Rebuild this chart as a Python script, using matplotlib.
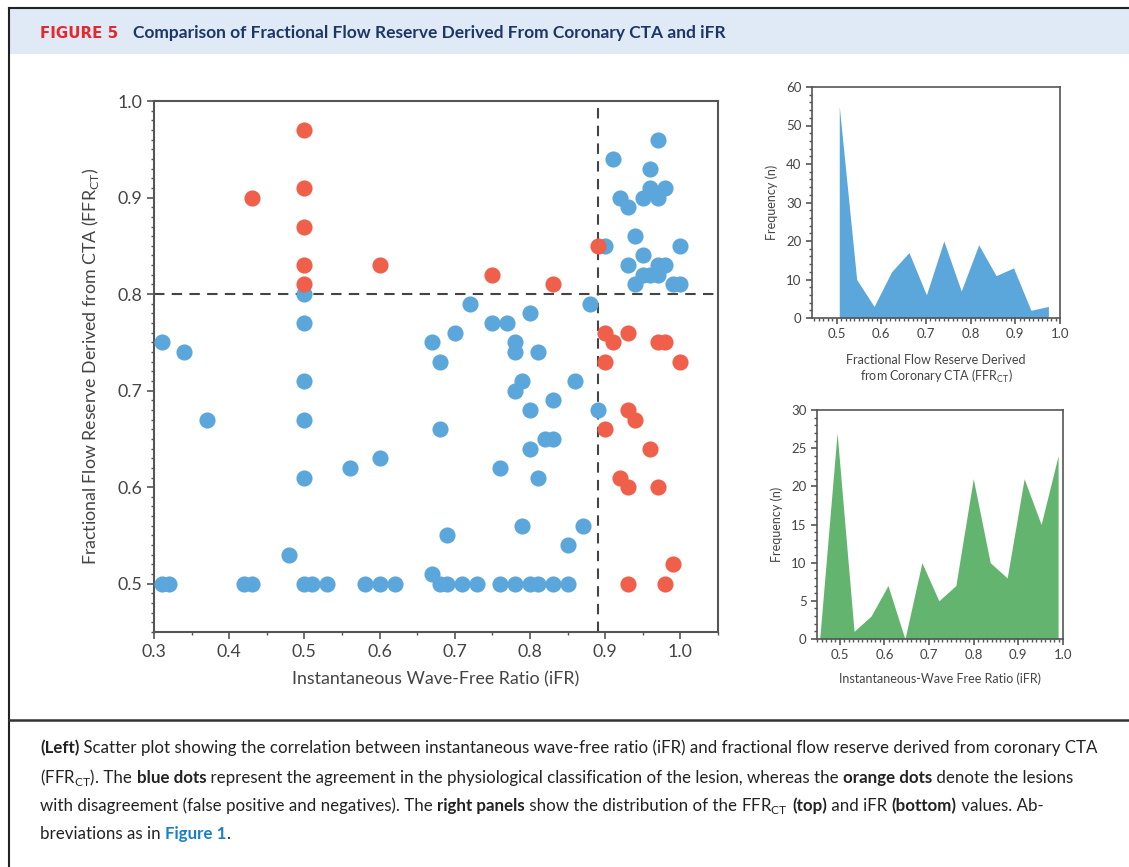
import matplotlib
matplotlib.use("Agg")
import matplotlib.pyplot as plt
from matplotlib.ticker import MultipleLocator, FormatStrFormatter
from matplotlib.patches import Rectangle
from matplotlib.lines import Line2D

# iFR / FFR-CT pairs where the two methods agree on the lesion
agree_ifr = [0.31, 0.34, 0.37, 0.31, 0.32, 0.42, 0.43, 0.48,
             0.50, 0.50, 0.50, 0.50, 0.50, 0.50, 0.51, 0.53,
             0.56, 0.60, 0.58, 0.60, 0.62,
             0.67, 0.68, 0.70, 0.72, 0.68, 0.69, 0.67,
             0.68, 0.69, 0.71, 0.73,
             0.75, 0.77, 0.78, 0.78, 0.80, 0.81, 0.79, 0.78, 0.80, 0.83,
             0.82, 0.83, 0.80, 0.76, 0.81, 0.79, 0.86, 0.85, 0.87,
             0.76, 0.78, 0.80, 0.81, 0.83, 0.85, 0.88, 0.89,
             0.97, 0.91, 0.96, 0.96, 0.98, 0.92, 0.93, 0.95, 0.97,
             0.94, 0.90, 1.00, 0.95, 0.93, 0.95, 0.96, 0.97, 0.97, 0.98,
             0.94, 0.99, 1.00]
agree_ffrct = [0.75, 0.74, 0.67, 0.50, 0.50, 0.50, 0.50, 0.53,
               0.80, 0.77, 0.71, 0.67, 0.61, 0.50, 0.50, 0.50,
               0.62, 0.63, 0.50, 0.50, 0.50,
               0.75, 0.73, 0.76, 0.79, 0.66, 0.55, 0.51,
               0.50, 0.50, 0.50, 0.50,
               0.77, 0.77, 0.75, 0.74, 0.78, 0.74, 0.71, 0.70, 0.68, 0.69,
               0.65, 0.65, 0.64, 0.62, 0.61, 0.56, 0.71, 0.54, 0.56,
               0.50, 0.50, 0.50, 0.50, 0.50, 0.50, 0.79, 0.68,
               0.96, 0.94, 0.93, 0.91, 0.91, 0.90, 0.89, 0.90, 0.90,
               0.86, 0.85, 0.85, 0.84, 0.83, 0.82, 0.82, 0.82, 0.83, 0.83,
               0.81, 0.81, 0.81]

# lesions with discordant classification
disagree_ifr = [0.43, 0.50, 0.50, 0.50, 0.50, 0.50, 0.60, 0.75, 0.83,
                0.89, 0.90, 0.91, 0.93, 0.97, 0.98, 0.90, 1.00,
                0.93, 0.94, 0.90, 0.96, 0.92, 0.93, 0.97, 0.99, 0.93, 0.98]
disagree_ffrct = [0.90, 0.97, 0.91, 0.87, 0.83, 0.81, 0.83, 0.82, 0.81,
                  0.85, 0.76, 0.75, 0.76, 0.75, 0.75, 0.73, 0.73,
                  0.68, 0.67, 0.66, 0.64, 0.61, 0.60, 0.60, 0.52, 0.50, 0.50]

ifr_cutoff = 0.89
ffrct_cutoff = 0.80

# frequency polygons
ffrct_bins = [0.506, 0.545, 0.584, 0.623, 0.662, 0.701, 0.740,
              0.779, 0.818, 0.857, 0.896, 0.935, 0.974]
ffrct_freq = [55, 10, 3, 12, 17, 6, 20, 7, 19, 11, 13, 2, 3]

ifr_bins = [0.455, 0.494, 0.532, 0.570, 0.608, 0.646, 0.684, 0.722,
            0.760, 0.799, 0.837, 0.875, 0.913, 0.951, 0.989]
ifr_freq = [0, 27, 1, 3, 7, 0, 10, 5, 7, 21, 10, 8, 21, 15, 24]

BLUE = "#5ba6da"
RED = "#ef5f49"
GREEN = "#63b46e"
AXIS = "#555555"
TEXT = "#444444"

plt.rcParams["font.family"] = ["Lato", "DejaVu Sans"]

W, H = 1129, 867
fig = plt.figure(figsize=(W / 100, H / 100), dpi=100)


def fx(px):
    return px / W


def fy(py):
    return 1 - py / H


def style_axes(ax, lw=1.5):
    for sp in ax.spines.values():
        sp.set_color(AXIS)
        sp.set_linewidth(lw)
    ax.tick_params(which="both", direction="out", color=AXIS, labelcolor=TEXT)
    ax.tick_params(which="major", length=5, width=1.2)
    ax.tick_params(which="minor", length=2.5, width=1.0)
    ax.tick_params(top=False, right=False, which="both")


# ---- frame, header band and caption rule
fig.patches.append(Rectangle((fx(8.5), fy(54)), 1 - fx(8.5), fy(8) - fy(54),
                             transform=fig.transFigure, facecolor="#dfeaf6",
                             edgecolor="none", zorder=0))
fig.lines.append(Line2D([fx(8.5), 1], [fy(7.5), fy(7.5)], transform=fig.transFigure,
                        color="#222222", lw=1.5))
fig.lines.append(Line2D([fx(8.5), fx(8.5)], [0, fy(7.5)], transform=fig.transFigure,
                        color="#222222", lw=1.5))
fig.lines.append(Line2D([fx(8.5), 1], [fy(720), fy(720)], transform=fig.transFigure,
                        color="#333333", lw=1.8))

fig.text(fx(40), fy(33), "FIGURE 5", color="#e3282f", fontsize=10.8,
         fontweight="bold", va="center", ha="left", family=["DejaVu Sans"])
fig.text(fx(133), fy(33), "Comparison of Fractional Flow Reserve Derived From Coronary CTA and iFR",
         color="#1c3766", fontsize=12.5, fontweight="bold", va="center", ha="left")

# ---- main scatter
ax = fig.add_axes([fx(154), fy(632), fx(718) - fx(154), fy(101) - fy(632)])
ax.scatter(agree_ifr, agree_ffrct, s=135, color=BLUE, linewidths=0, zorder=3)
ax.scatter(disagree_ifr, disagree_ffrct, s=135, color=RED, linewidths=0, zorder=4)
ax.axhline(ffrct_cutoff, color="#444444", lw=1.5, ls=(0, (5, 3.5)), zorder=2)
ax.axvline(ifr_cutoff, color="#444444", lw=1.5, ls=(0, (5, 3.5)), zorder=2)
ax.set_xlim(0.3, 1.05)
ax.set_ylim(0.45, 1.0)
ax.xaxis.set_major_locator(MultipleLocator(0.1))
ax.xaxis.set_minor_locator(MultipleLocator(0.05))
ax.yaxis.set_major_locator(MultipleLocator(0.1))
ax.yaxis.set_minor_locator(MultipleLocator(0.01))
ax.xaxis.set_major_formatter(FormatStrFormatter("%.1f"))
ax.yaxis.set_major_formatter(FormatStrFormatter("%.1f"))
ax.set_xticks([0.3, 0.4, 0.5, 0.6, 0.7, 0.8, 0.9, 1.0])
style_axes(ax)
ax.tick_params(labelsize=12.8)
ax.set_xlabel("Instantaneous Wave-Free Ratio (iFR)", fontsize=12.8, color=TEXT, labelpad=8)
ax.set_ylabel(r"Fractional Flow Reserve Derived from CTA (FFR$_\mathregular{CT}$)",
              fontsize=12.8, color=TEXT, labelpad=12)

# ---- FFR-CT distribution
ax1 = fig.add_axes([fx(812), fy(318), fx(1060) - fx(812), fy(87) - fy(318)])
ax1.fill_between(ffrct_bins, ffrct_freq, color=BLUE, lw=0)
ax1.set_xlim(0.445, 1.0)
ax1.set_ylim(0, 60)
ax1.xaxis.set_major_locator(MultipleLocator(0.1))
ax1.xaxis.set_minor_locator(MultipleLocator(0.01))
ax1.yaxis.set_major_locator(MultipleLocator(10))
ax1.yaxis.set_minor_locator(MultipleLocator(2))
ax1.set_xticks([0.5, 0.6, 0.7, 0.8, 0.9, 1.0])
ax1.xaxis.set_major_formatter(FormatStrFormatter("%.1f"))
style_axes(ax1, lw=1.2)
ax1.tick_params(labelsize=9.5)
ax1.tick_params(which="major", length=4)
ax1.tick_params(which="minor", length=2)
ax1.set_xlabel("Fractional Flow Reserve Derived\nfrom Coronary CTA (FFR$_\\mathregular{CT}$)",
               fontsize=9, color=TEXT, labelpad=10, linespacing=1.1)
ax1.set_ylabel("Frequency (n)", fontsize=9, color=TEXT, labelpad=6)

# ---- iFR distribution
ax2 = fig.add_axes([fx(817), fy(639), fx(1063) - fx(817), fy(410) - fy(639)])
ax2.fill_between(ifr_bins, ifr_freq, color=GREEN, lw=0)
ax2.set_xlim(0.449, 1.0)
ax2.set_ylim(0, 30)
ax2.xaxis.set_minor_locator(MultipleLocator(0.01))
ax2.yaxis.set_major_locator(MultipleLocator(5))
ax2.yaxis.set_minor_locator(MultipleLocator(1))
ax2.set_xticks([0.5, 0.6, 0.7, 0.8, 0.9, 1.0])
ax2.xaxis.set_major_formatter(FormatStrFormatter("%.1f"))
style_axes(ax2, lw=1.2)
ax2.tick_params(labelsize=9.5)
ax2.tick_params(which="major", length=4)
ax2.tick_params(which="minor", length=2)
ax2.set_xlabel("Instantaneous-Wave Free Ratio (iFR)", fontsize=9, color=TEXT, labelpad=8)
ax2.set_ylabel("Frequency (n)", fontsize=9, color=TEXT, labelpad=6)

# ---- caption, drawn run by run so bold words sit inline
renderer = fig.canvas.get_renderer()


def caption_line(y_px, runs, x_px=40, size=12.2):
    x = x_px
    for txt, bold, color in runs:
        t = fig.text(fx(x), fy(y_px), txt, fontsize=size, color=color,
                     fontweight="bold" if bold else "normal", va="baseline", ha="left")
        x += t.get_window_extent(renderer).width


K = "#222222"
FFRCT = "FFR$_\\mathregular{CT}$"
caption_line(753, [("(Left)", True, K),
                   (" Scatter plot showing the correlation between instantaneous wave-free ratio (iFR) "
                    "and fractional flow reserve derived from coronary CTA", False, K)])
caption_line(783, [("(" + FFRCT + ")", False, K),
                   (". The ", False, K), ("blue dots", True, K),
                   (" represent the agreement in the physiological classification of the lesion, "
                    "whereas the ", False, K), ("orange dots", True, K),
                   (" denote the lesions", False, K)])
caption_line(811, [("with disagreement (false positive and negatives). The ", False, K),
                   ("right panels", True, K),
                   (" show the distribution of the ", False, K), (FFRCT, False, K),
                   (" ", False, K), ("(top)", True, K), (" and iFR ", False, K),
                   ("(bottom)", True, K), (" values. Ab-", False, K)])
caption_line(839, [("breviations as in ", False, K), ("Figure 1", True, "#1a80c4"),
                   (".", False, K)])

fig.savefig("out.png", dpi=100)
